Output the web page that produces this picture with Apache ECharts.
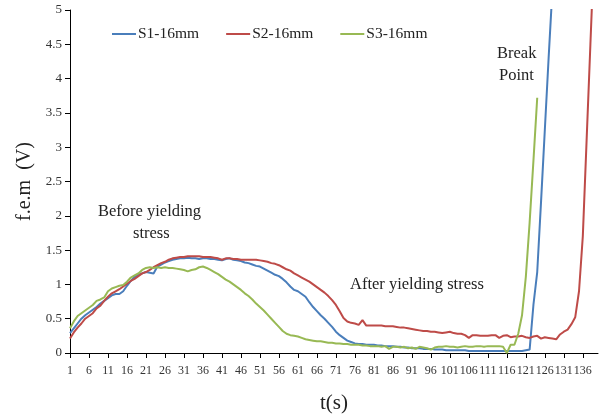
<!DOCTYPE html>
<html>
<head>
<meta charset="utf-8">
<script src="https://cdn.jsdelivr.net/npm/echarts@6/dist/echarts.min.js"></script>
<style>
  html, body { margin: 0; padding: 0; background: #fff; }
  #chart { width: 602px; height: 414px; }
</style>
</head>
<body>
<div id="chart"></div>
<script>
// t(s) categories 1..140
const categories = Array.from({ length: 140 }, (_, i) => String(i + 1))

const s1 = [
  0.29, 0.36, 0.43, 0.50, 0.55, 0.59, 0.63, 0.67, 0.72, 0.76,
  0.80, 0.84, 0.86, 0.86, 0.90, 0.98, 1.05, 1.11, 1.14, 1.16,
  1.18, 1.17, 1.16, 1.26, 1.29, 1.32, 1.34, 1.36, 1.37, 1.38,
  1.38, 1.39, 1.38, 1.38, 1.37, 1.38, 1.38, 1.37, 1.37, 1.36,
  1.35, 1.37, 1.38, 1.36, 1.35, 1.34, 1.32, 1.31, 1.29, 1.27,
  1.26, 1.23, 1.20, 1.17, 1.14, 1.12, 1.08, 1.03, 0.97, 0.92,
  0.90, 0.86, 0.82, 0.74, 0.67, 0.61, 0.55, 0.50, 0.44, 0.38,
  0.31, 0.26, 0.22, 0.18, 0.16, 0.14, 0.13, 0.13, 0.12, 0.12,
  0.12, 0.11, 0.11, 0.10, 0.10, 0.10, 0.09, 0.09, 0.08, 0.08,
  0.07, 0.07, 0.07, 0.06, 0.06, 0.06, 0.05, 0.05, 0.05, 0.04,
  0.04, 0.04, 0.04, 0.04, 0.04, 0.03, 0.03, 0.03, 0.03, 0.03,
  0.03, 0.03, 0.03, 0.03, 0.03, 0.03, 0.03, 0.03, 0.03, 0.03,
  0.04, 0.05, 0.70, 1.18, 2.20, 3.25, 4.30, 5.30
]

const s2 = [
  0.21, 0.30, 0.37, 0.43, 0.50, 0.54, 0.58, 0.65, 0.69, 0.76,
  0.82, 0.87, 0.90, 0.93, 0.97, 1.01, 1.05, 1.08, 1.12, 1.16,
  1.18, 1.21, 1.25, 1.28, 1.31, 1.33, 1.36, 1.38, 1.39, 1.40,
  1.40, 1.41, 1.41, 1.41, 1.41, 1.40, 1.40, 1.40, 1.39, 1.38,
  1.36, 1.38, 1.38, 1.37, 1.37, 1.36, 1.36, 1.36, 1.36, 1.36,
  1.35, 1.34, 1.33, 1.31, 1.30, 1.28, 1.25, 1.22, 1.20, 1.16,
  1.13, 1.10, 1.07, 1.04, 1.00, 0.96, 0.92, 0.88, 0.83, 0.77,
  0.70, 0.61, 0.51, 0.46, 0.44, 0.43, 0.41, 0.48, 0.40, 0.40,
  0.40, 0.40, 0.40, 0.39, 0.39, 0.39, 0.38, 0.37, 0.37, 0.36,
  0.35, 0.34, 0.33, 0.32, 0.32, 0.31, 0.31, 0.30, 0.29, 0.30,
  0.31, 0.29, 0.28, 0.28, 0.26, 0.22, 0.26, 0.26, 0.25, 0.25,
  0.25, 0.26, 0.26, 0.22, 0.25, 0.26, 0.23, 0.24, 0.24, 0.25,
  0.23, 0.22, 0.24, 0.25, 0.21, 0.23, 0.22, 0.21, 0.20, 0.27,
  0.31, 0.34, 0.42, 0.52, 0.90, 1.70, 3.10, 4.50, 5.90
]

const s3 = [
  0.36, 0.46, 0.54, 0.58, 0.62, 0.66, 0.70, 0.76, 0.78, 0.81,
  0.90, 0.94, 0.96, 0.98, 0.99, 1.04, 1.10, 1.13, 1.16, 1.21,
  1.24, 1.25, 1.24, 1.25, 1.24, 1.25, 1.24, 1.24, 1.23, 1.22,
  1.21, 1.19, 1.21, 1.22, 1.25, 1.26, 1.24, 1.21, 1.18, 1.15,
  1.11, 1.07, 1.04, 1.00, 0.96, 0.92, 0.87, 0.83, 0.78, 0.72,
  0.67, 0.62, 0.56, 0.50, 0.44, 0.38, 0.32, 0.28, 0.26, 0.25,
  0.24, 0.22, 0.20, 0.19, 0.18, 0.17, 0.17, 0.16, 0.15, 0.15,
  0.14, 0.14, 0.13, 0.13, 0.12, 0.12, 0.12, 0.11, 0.11, 0.10,
  0.10, 0.10, 0.09, 0.10, 0.06, 0.09, 0.09, 0.08, 0.09, 0.07,
  0.08, 0.06, 0.09, 0.08, 0.07, 0.05, 0.08, 0.09, 0.09, 0.10,
  0.09, 0.09, 0.08, 0.09, 0.10, 0.09, 0.09, 0.10, 0.10, 0.09,
  0.10, 0.10, 0.10, 0.10, 0.09, 0.00, 0.12, 0.12, 0.28, 0.55,
  1.11, 1.90, 2.80, 3.72
]

const serif = '"Liberation Serif", "DejaVu Serif", serif'

const chart = echarts.init(document.getElementById('chart'))

const lineSeries = (name, data, color) => ({
  name,
  type: 'line',
  data,
  symbol: 'none',
  clip: true,
  itemStyle: { color },
  lineStyle: { color, width: 2 }
})

chart.setOption({
  animation: false,
  textStyle: { fontFamily: serif },
  legend: {
    top: 21,
    left: 107,
    itemGap: 27,
    itemWidth: 24,
    itemHeight: 2,
    icon: 'rect',
    textStyle: { fontFamily: serif, fontSize: 15.5, color: '#222', padding: [0, 0, 0, -3] },
    data: ['S1-16mm', 'S2-16mm', 'S3-16mm']
  },
  grid: { left: 70, right: 4, top: 10, bottom: 61, containLabel: false, outerBoundsMode: 'none' },
  xAxis: {
    type: 'category',
    boundaryGap: false,
    data: categories,
    name: 't(s)',
    nameLocation: 'middle',
    nameGap: 40,
    nameTextStyle: { fontFamily: serif, fontSize: 21, color: '#222' },
    axisLine: { lineStyle: { color: '#000', width: 1 } },
    axisTick: { interval: 4, length: 5, lineStyle: { color: '#000' } },
    axisLabel: { interval: 4, fontFamily: serif, fontSize: 12, color: '#333', margin: 12 },
    splitLine: { show: false }
  },
  yAxis: {
    type: 'value',
    min: 0,
    max: 5,
    interval: 0.5,
    name: 'f.e.m  (V)',
    nameLocation: 'middle',
    nameRotate: 90,
    nameGap: 34,
    nameTextStyle: { fontFamily: serif, fontSize: 20, color: '#222' },
    axisLine: { show: true, lineStyle: { color: '#000', width: 1 } },
    axisTick: { show: true, length: 5, lineStyle: { color: '#000' } },
    axisLabel: { fontFamily: serif, fontSize: 13, color: '#333', margin: 8 },
    splitLine: { show: false }
  },
  graphic: [
    { type: 'text', left: 98, top: 203, style: { text: 'Before yielding', font: '16.5px ' + serif, fill: '#222' } },
    { type: 'text', left: 133, top: 225, style: { text: 'stress', font: '16.5px ' + serif, fill: '#222' } },
    { type: 'text', left: 350, top: 276, style: { text: 'After yielding stress', font: '16.5px ' + serif, fill: '#222' } },
    { type: 'text', left: 497, top: 45, style: { text: 'Break', font: '16.5px ' + serif, fill: '#222' } },
    { type: 'text', left: 499, top: 67, style: { text: 'Point', font: '16.5px ' + serif, fill: '#222' } }
  ],
  series: [
    lineSeries('S1-16mm', s1, '#4A7EBB'),
    lineSeries('S2-16mm', s2, '#BE4B48'),
    lineSeries('S3-16mm', s3, '#98B954')
  ]
})
</script>
</body>
</html>
